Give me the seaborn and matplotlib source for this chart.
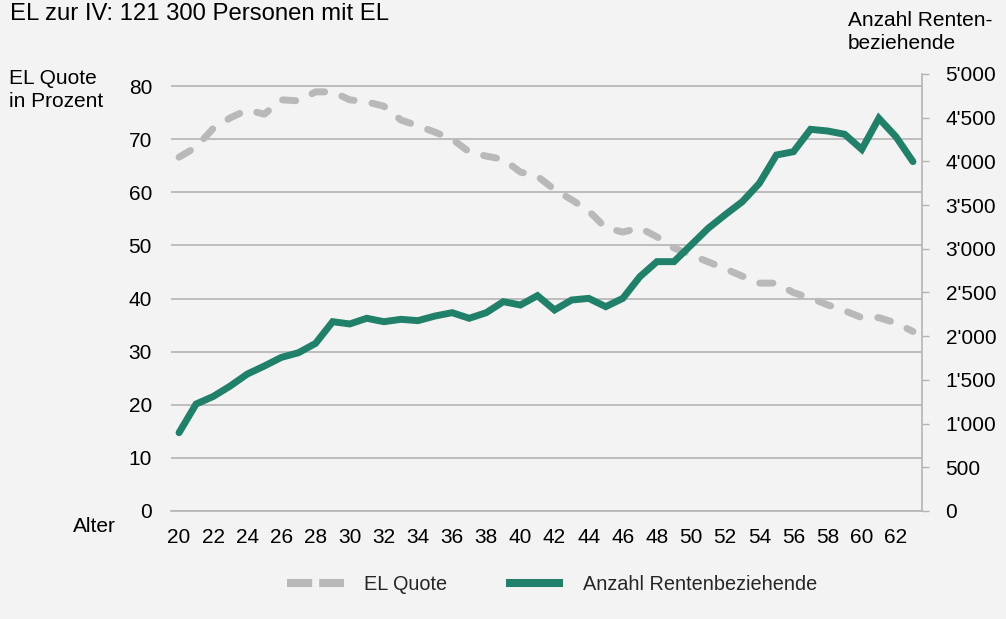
import numpy as np
import pandas as pd
import matplotlib
matplotlib.use("Agg")
import matplotlib.pyplot as plt
import seaborn as sns
from matplotlib.ticker import FuncFormatter
from matplotlib.lines import Line2D

ages = list(range(20, 64))
el_quote = [66.6, 68.5, 72.0, 74.0, 75.5, 74.7, 77.4, 77.2, 78.9, 78.9,
            77.4, 77.0, 76.2, 73.6, 72.5, 71.3, 70.0, 67.6, 66.8, 66.2,
            63.8, 63.0, 60.5, 58.6, 56.5, 53.3, 52.5, 53.3, 51.6, 49.5,
            48.2, 46.9, 45.6, 44.2, 42.9, 42.9, 41.1, 40.1, 38.8, 37.7,
            36.4, 36.4, 35.4, 33.8]
anzahl = [896, 1224, 1310, 1430, 1567, 1659, 1758, 1811, 1918, 2166,
          2140, 2205, 2166, 2193, 2178, 2231, 2269, 2205, 2269, 2395,
          2357, 2464, 2300, 2414, 2433, 2338, 2433, 2681, 2853, 2853,
          3043, 3234, 3390, 3539, 3749, 4073, 4111, 4367, 4348, 4310,
          4138, 4493, 4283, 3997]
xtick_labels = [str(a) for a in range(20, 63, 2)]
left_ticks = [0, 10, 20, 30, 40, 50, 60, 70, 80]
right_ticks = [0, 500, 1000, 1500, 2000, 2500, 3000, 3500, 4000, 4500, 5000]

df = pd.DataFrame({"Alter": ages, "EL Quote": el_quote, "Anzahl": anzahl})

sns.set_theme(style="white")
plt.rcParams["font.family"] = ["Liberation Sans", "DejaVu Sans"]
BG = "#f3f3f3"
GRID = "#b4b4b4"
GREEN = "#21806a"
GRAY = "#b9b9b9"
TXT = "#000000"
FS = 15
W, H = 1006, 619

fig = plt.figure(figsize=(10.06, 6.19), dpi=100, facecolor=BG)
ax = fig.add_axes([170.5 / W, 1 - 511 / H, 751 / W, 437 / H])
ax.set_facecolor(BG)
ax2 = ax.twinx()

sns.lineplot(data=df, x="Alter", y="EL Quote", ax=ax, color=GRAY, lw=5,
             legend=False)
ln1 = ax.lines[0]
ln1.set_dashes([1.9, 2.6])
ln1.set_dash_capstyle("round")

sns.lineplot(data=df, x="Alter", y="Anzahl", ax=ax2, color=GREEN, lw=5,
             legend=False)
ln2 = ax2.lines[0]
ln2.set_solid_capstyle("round")
ln2.set_solid_joinstyle("miter")

ax.set_xlim(19.5, 63.5)
ax.set_ylim(0, 82.26)
ax2.set_ylim(0, 5000)

ax.set_yticks(left_ticks)
ax.yaxis.grid(True, color=GRID, lw=1.2)
ax.set_axisbelow(True)
ax.tick_params(axis="y", length=0, labelsize=FS, colors=TXT, pad=13.3)

ax.set_xticks(list(range(20, 63, 2)))
ax.set_xticklabels(xtick_labels)
ax.set_xticks(np.arange(19.5, 64, 1), minor=True)
ax.tick_params(axis="x", which="major", length=0, labelsize=FS, colors=TXT, pad=12.5)
ax.tick_params(axis="x", which="minor", length=3.6, color=GRID, width=1, direction="out")
ax.set_xlabel("")
ax.set_ylabel("")
ax2.set_ylabel("")

ax2.set_yticks(right_ticks)
ax2.yaxis.set_major_formatter(FuncFormatter(lambda v, p: f"{int(v):,}".replace(",", "'")))
ax2.tick_params(axis="y", length=4.8, color=GRID, width=1, labelsize=FS, colors=TXT, pad=12.5)

for a in (ax, ax2):
    for s in ("top", "left"):
        a.spines[s].set_visible(False)
    a.spines["bottom"].set_color(GRID)
    a.spines["right"].set_color(GRID)
    a.spines["bottom"].set_linewidth(1.2)
    a.spines["right"].set_linewidth(1.2)
ax.spines["right"].set_visible(False)
ax2.spines["bottom"].set_visible(False)

def ftext(x, y, s, size=FS):
    fig.text(x / W, 1 - y / H, s, fontsize=size, va="baseline", ha="left", color=TXT)

ftext(10, 20, "EL zur IV: 121 300 Personen mit EL", size=17.2)
ftext(9, 84, "EL Quote")
ftext(9, 107, "in Prozent")
ftext(848, 26, "Anzahl Renten-")
ftext(848, 49, "beziehende")
ftext(73, 532, "Alter")

h1 = Line2D([], [], color=GRAY, lw=5.8, dashes=[3.125, 0.875], dash_capstyle="butt")
h2 = Line2D([], [], color=GREEN, lw=5.8, solid_capstyle="butt")
fig.legend([h1, h2], ["EL Quote", "Anzahl Rentenbeziehende"], loc="center",
           bbox_to_anchor=(552 / W, 1 - 584 / H), ncol=2, frameon=False,
           fontsize=14.3, handlelength=2.87, handletextpad=1.0, columnspacing=2.95)

fig.savefig("out.png", dpi=100, facecolor=BG)
